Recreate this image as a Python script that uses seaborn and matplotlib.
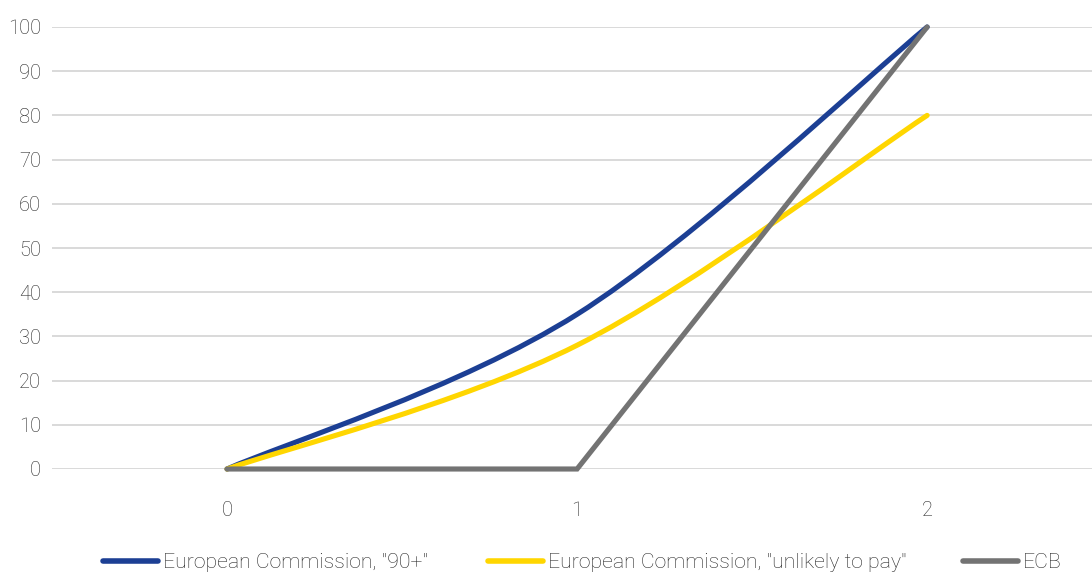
import numpy as np
import pandas as pd
import seaborn as sns
import matplotlib
matplotlib.use("Agg")
import matplotlib.pyplot as plt
from matplotlib.path import Path
from matplotlib.patches import PathPatch
from matplotlib.lines import Line2D

# Provisioning paths (percent of exposure) by number of years
years = [0, 1, 2]
ec_90 = [0, 35, 100]
ec_utp = [0, 28, 80]
ecb = [0, 0, 100]

labels = ['European Commission, "90+"', 'European Commission, "unlikely to pay"', 'ECB']
colors = ['#1c3f94', '#ffd600', '#737373']

sns.set_theme(style="white")
plt.rcParams['font.family'] = ['Roboto', 'DejaVu Sans']
plt.rcParams['font.weight'] = 'light'

fig = plt.figure(figsize=(10.92, 5.72), dpi=100)
ax = fig.add_axes([52 / 1092, 1 - 469 / 572, 1 - 52 / 1092, (469 - 27) / 572])

LW = 3.7


def smooth_path(xs, ys):
    """Cubic Bezier path through the points, spreadsheet-style smoothing."""
    pts = np.column_stack([xs, ys]).astype(float)
    n = len(pts)
    verts = [pts[0]]
    codes = [Path.MOVETO]
    for i in range(n - 1):
        p_prev = pts[i - 1] if i > 0 else pts[i]
        p0, p1 = pts[i], pts[i + 1]
        p_next = pts[i + 2] if i + 2 < n else pts[i + 1]
        c1 = p0 + (p1 - p_prev) / 6.0
        c2 = p1 - (p_next - p0) / 6.0
        verts += [c1, c2, p1]
        codes += [Path.CURVE4] * 3
    return Path(verts, codes)


for ys, c in [(ec_90, colors[0]), (ec_utp, colors[1])]:
    patch = PathPatch(smooth_path(years, ys), facecolor='none', edgecolor=c,
                      lw=LW, capstyle='round', joinstyle='round', clip_on=False, zorder=3)
    ax.add_patch(patch)

df = pd.DataFrame({"year": years, "value": ecb})
sns.lineplot(data=df, x="year", y="value", ax=ax, color=colors[2], lw=LW,
             solid_capstyle='round', solid_joinstyle='miter', clip_on=False, zorder=4)

ax.set_xlim(-0.5, 2.471)
ax.set_ylim(0, 100)
ax.set_yticks(range(0, 101, 10))
ax.set_xticks(years)
ax.set_xticklabels([str(y) for y in years])
ax.set_xlabel("")
ax.set_ylabel("")
ax.grid(axis='y', color='#d9d9d9', lw=1.4)
ax.grid(axis='x', visible=False)
for s in ax.spines.values():
    s.set_visible(False)
ax.tick_params(axis='y', length=0, pad=8, labelsize=14.5, labelcolor='#262626')
ax.tick_params(axis='x', length=0, pad=23, labelsize=14.5, labelcolor='#262626')

# Legend entries placed along the bottom
positions = [103, 488, 963]
for lab, c, xp in zip(labels, colors, positions):
    h = Line2D([0], [0], color=c, lw=4, solid_capstyle='round')
    leg = fig.legend([h], [lab], loc='center left', bbox_to_anchor=(xp / 1092, 1 - 563 / 572),
                     frameon=False, fontsize=15.3, handlelength=2.6, handletextpad=0.22,
                     borderaxespad=0, borderpad=0)
    for t in leg.get_texts():
        t.set_color('#262626')

fig.savefig("out.png", dpi=100)
